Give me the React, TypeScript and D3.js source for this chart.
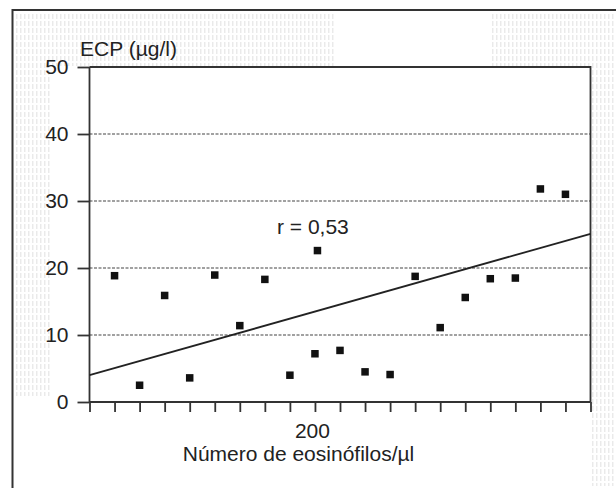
import React, { useEffect, useRef } from "react";
import * as d3 from "d3";

// eosinophil counts (per µl) and ECP values
const eosinophils = [40, 60, 80, 100, 120, 140, 160, 180, 200, 202, 220, 240, 260, 280, 300, 320, 340, 360, 380, 400];
const ecpValues = [18.85, 2.5, 15.9, 3.6, 18.95, 11.4, 18.3, 4.0, 7.2, 22.6, 7.7, 4.5, 4.1, 18.75, 11.1, 15.6, 18.4, 18.5, 31.8, 31.0];

const xTicks = [20, 40, 60, 80, 100, 120, 140, 160, 180, 200, 220, 240, 260, 280, 300, 320, 340, 360, 380, 400, 420];
const xTickLabels = ["200"];
const yTicks = [0, 10, 20, 30, 40, 50];

// fitted line, end points as drawn
const fitX = [20, 420];
const fitY = [4.0, 25.1];
const rLabel = "r = 0,53";

const App = () => {
  const svgRef = useRef(null);

  useEffect(() => {
    const svg = d3.select(svgRef.current);
    svg.selectAll("*").remove();

    const width = 616;
    const height = 488;
    const margin = { top: 67, right: 25.5, bottom: 86, left: 89.5 };
    const font = "'Liberation Sans', Arial, Helvetica, sans-serif";
    const ink = "#222";
    const fs = "21px";

    svg.attr("width", width).attr("height", height);

    svg.append("rect").attr("width", width).attr("height", height).attr("fill", "#fff");

    // scanned halftone texture around the plot
    const defs = svg.append("defs");
    const pat = defs
      .append("pattern")
      .attr("id", "scan")
      .attr("width", 4)
      .attr("height", 7)
      .attr("patternUnits", "userSpaceOnUse");
    pat.append("rect").attr("width", 1.5).attr("height", 5).attr("fill", "#d9d9d9");
    const texture = [
      [14, 12, 320, 54],
      [490, 12, 126, 54],
      [592, 66, 24, 420],
      [14, 66, 36, 330],
    ];
    texture.forEach(([x, y, w, h]) => {
      svg.append("rect").attr("x", x).attr("y", y).attr("width", w).attr("height", h)
        .attr("fill", "url(#scan)").attr("opacity", 0.55);
    });

    // outer frame (left and top edges)
    svg
      .append("path")
      .attr("d", `M12.5,${height} V10 H${width}`)
      .attr("fill", "none")
      .attr("stroke", "#333")
      .attr("stroke-width", 2);

    const x = d3
      .scaleLinear()
      .domain([20, 420])
      .range([margin.left, width - margin.right]);

    const y = d3
      .scaleLinear()
      .domain([0, 50])
      .range([height - margin.bottom, margin.top]);

    const g = svg.append("g");

    // plot area
    g.append("rect")
      .attr("x", x(20))
      .attr("y", y(50))
      .attr("width", x(420) - x(20))
      .attr("height", y(0) - y(50))
      .attr("fill", "#fff");

    // dashed grid
    g.selectAll(".grid")
      .data(yTicks.filter((d) => d > 0 && d < 50))
      .enter()
      .append("line")
      .attr("x1", x(20))
      .attr("x2", x(420))
      .attr("y1", (d) => y(d))
      .attr("y2", (d) => y(d))
      .attr("stroke", "#444")
      .attr("stroke-width", 1.2)
      .attr("stroke-dasharray", "3,1.5");

    // box top + right
    g.append("path")
      .attr("d", `M${x(20)},${y(50)} H${x(420)} V${y(0)}`)
      .attr("fill", "none")
      .attr("stroke", "#333")
      .attr("stroke-width", 1.8);

    // x axis
    const xAxis = g
      .append("g")
      .attr("transform", `translate(0,${y(0)})`)
      .call(
        d3
          .axisBottom(x)
          .tickValues(xTicks)
          .tickSize(10)
          .tickFormat((d) => (xTickLabels.includes(String(d)) ? String(d) : ""))
      );
    xAxis.select(".domain").attr("stroke", "#333").attr("stroke-width", 1.8).attr("d", `M${x(20)},0H${x(420)}`);
    xAxis.selectAll(".tick line").attr("stroke", "#333").attr("stroke-width", 1.8);
    xAxis
      .selectAll(".tick text")
      .attr("y", 36)
      .attr("dy", 0)
      .attr("dx", -3)
      .attr("fill", ink)
      .style("font-family", font)
      .style("font-size", fs);

    // y axis
    const yAxis = g
      .append("g")
      .attr("transform", `translate(${x(20)},0)`)
      .call(d3.axisLeft(y).tickValues(yTicks).tickSize(12).tickPadding(9));
    yAxis.select(".domain").attr("stroke", "#333").attr("stroke-width", 1.8).attr("d", `M0,${y(0)}V${y(50)}`);
    yAxis.selectAll(".tick line").attr("stroke", "#333").attr("stroke-width", 1.8);
    yAxis
      .selectAll(".tick text")
      .attr("fill", ink)
      .style("font-family", font)
      .style("font-size", fs);

    // regression line
    const line = d3
      .line()
      .x((d) => x(d[0]))
      .y((d) => y(d[1]));
    g.append("path")
      .datum(fitX.map((v, i) => [v, fitY[i]]))
      .attr("d", line)
      .attr("fill", "none")
      .attr("stroke", "#222")
      .attr("stroke-width", 1.8);

    // points
    const size = 7.5;
    g.selectAll(".pt")
      .data(eosinophils.map((v, i) => [v, ecpValues[i]]))
      .enter()
      .append("rect")
      .attr("x", (d) => x(d[0]) - size / 2)
      .attr("y", (d) => y(d[1]) - size / 2)
      .attr("width", size)
      .attr("height", size)
      .attr("fill", "#111");

    // labels
    svg
      .append("text")
      .attr("x", 80)
      .attr("y", 56)
      .attr("fill", ink)
      .style("font-family", font)
      .style("font-size", fs)
      .text("ECP (µg/l)");

    svg
      .append("text")
      .attr("x", 277)
      .attr("y", 234)
      .attr("fill", ink)
      .style("font-family", font)
      .style("font-size", fs)
      .text(rLabel);

    svg
      .append("text")
      .attr("x", 298.5)
      .attr("y", 461)
      .attr("text-anchor", "middle")
      .attr("fill", ink)
      .style("font-family", font)
      .style("font-size", fs)
      .text("Número de eosinófilos/µl");
  }, []);

  return (
    <svg
      ref={svgRef}
      style={{ position: "absolute", left: 0, top: 0, display: "block" }}
    ></svg>
  );
};

export default App;
